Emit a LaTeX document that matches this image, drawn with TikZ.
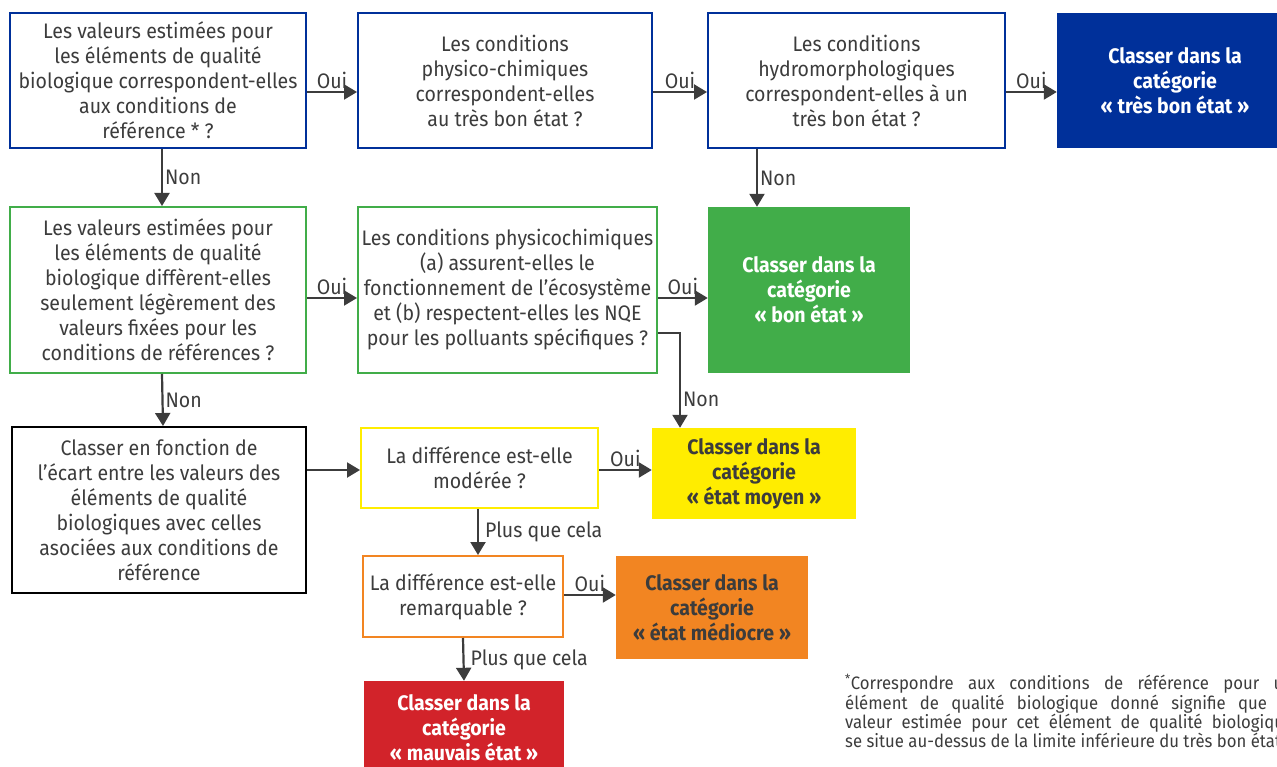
\documentclass[tikz,border=0pt]{standalone}
\usepackage{fontspec}
\setmainfont{Fira Sans}[FakeStretch=0.93]
\usepackage{tikz}
\usetikzlibrary{arrows.meta}

\definecolor{txtgray}{HTML}{3C3C3C}
\definecolor{ebleu}{HTML}{00309A}
\definecolor{evert}{HTML}{41AD49}
\definecolor{ejaune}{HTML}{FFED00}
\definecolor{eorange}{HTML}{F28522}
\definecolor{erouge}{HTML}{D2232A}

\tikzset{
  qbox/.style={draw=#1, line width=2pt, fill=white, align=center, inner sep=0pt, text=txtgray},
  rbox/.style={fill=#1, draw=none, align=center, inner sep=0pt, font=\fontsize{21}{25}\selectfont\bfseries},
  arr/.style={draw=txtgray, line width=2.2pt, -{Triangle[length=13pt,width=15pt]}},
  lbl/.style={text=txtgray, inner sep=2pt}
}

\begin{document}
\begin{tikzpicture}[x=1pt, y=-1pt]

  \fontsize{21}{25}\selectfont

  \useasboundingbox (0,0) rectangle (1277,767);

  %% first row
  \node[qbox=ebleu, minimum width=296pt, minimum height=135pt] (B1) at (158,80.5)
    {Les valeurs estimées pour\\les éléments de qualité\\biologique correspondent-elles\\aux conditions de\\référence * ?};
  \node[qbox=ebleu, minimum width=294pt, minimum height=135pt] (B2) at (505,80.5)
    {Les conditions\\physico-chimiques\\correspondent-elles\\au très bon état ?};
  \node[qbox=ebleu, minimum width=297pt, minimum height=135pt] (B3) at (856.5,80.5)
    {Les conditions\\hydromorphologiques\\correspondent-elles à un\\très bon état ?};
  \node[rbox=ebleu, text=white, minimum width=236pt, minimum height=135pt] (B4) at (1175,80.5)
    {Classer dans la\\catégorie\\« très bon état »};

  %% second row
  \node[qbox=evert, minimum width=296pt, minimum height=166pt] (G1) at (158,290)
    {Les valeurs estimées pour\\les éléments de qualité\\biologique diffèrent-elles\\seulement légèrement des\\valeurs fixées pour les\\conditions de références ?};
  \node[qbox=evert, minimum width=299pt, minimum height=166pt] (G2) at (507.5,290)
    {Les conditions physicochimiques\\(a) assurent-elles le\\fonctionnement de l’écosystème\\et (b) respectent-elles les NQE\\pour les polluants spécifiques ?};
  \node[rbox=evert, text=white, minimum width=202pt, minimum height=166pt] (G3) at (809,290)
    {Classer dans la\\catégorie\\« bon état »};

  %% third row
  \node[qbox=black, minimum width=294pt, minimum height=166pt] (K) at (159,510)
    {Classer en fonction de\\l’écart entre les valeurs des\\éléments de qualité\\biologiques avec celles\\asociées aux conditions de\\référence};
  \node[qbox=ejaune, minimum width=237pt, minimum height=80pt] (Y1) at (479.5,468)
    {La différence est-elle\\modérée ?};
  \node[rbox=ejaune, text=txtgray, minimum width=204pt, minimum height=91pt] (Y2) at (754,473.5)
    {Classer dans la\\catégorie\\« état moyen »};
  \node[qbox=eorange, minimum width=200pt, minimum height=81pt] (O1) at (463,596.5)
    {La différence est-elle\\remarquable ?};
  \node[rbox=eorange, text=txtgray, minimum width=192pt, minimum height=103pt] (O2) at (712,607.5)
    {Classer dans la\\catégorie\\« état médiocre »};
  \node[rbox=erouge, text=white, minimum width=200pt, minimum height=94pt] (R) at (464,728)
    {Classer dans la\\catégorie\\« mauvais état »};

  %% footnote
  \node[anchor=north west, text=txtgray, text width=448pt, align=justify, inner sep=0pt,
        font=\fontsize{18}{18}\selectfont] (note) at (845,674)
    {\hyphenpenalty=10000\relax\emergencystretch=2em\relax
     \textsuperscript{*}Correspondre aux conditions de référence pour un\linebreak
     élément de qualité biologique donné signifie que la\linebreak
     valeur estimée pour cet élément de qualité biologique\linebreak
     se situe au-dessus de la limite inférieure du très bon état};

  %% arrows
  \draw[arr] ([yshift=-11.5]B1.east) -- node[lbl, above]{Oui} ([yshift=-11.5]B2.west); %% B1->B2
  \draw[arr] ([yshift=-11.5]B2.east) -- node[lbl, above]{Oui} ([yshift=-11.5]B3.west); %% B2->B3
  \draw[arr] ([yshift=-11.5]B3.east) -- node[lbl, above]{Oui} ([yshift=-11.5]B4.west); %% B3->B4
  \draw[arr] ([xshift=4]B1.south) -- node[lbl, right]{Non} ([xshift=4]G1.north); %% B1->G1
  \draw[arr] ([xshift=-52]G3.north |- B3.south) -- node[lbl, right]{Non} ([xshift=-52]G3.north); %% B3->G3

  \draw[arr] ([yshift=-8]G1.east) -- node[lbl, above]{Oui} ([yshift=-8]G2.west); %% G1->G2
  \draw[arr] ([yshift=-8]G2.east) -- node[lbl, above]{Oui} ([yshift=-8]G3.west); %% G2->G3
  \draw[arr] ([yshift=-43]G2.east) -| node[lbl, right, pos=0.85]{Non} ([xshift=-74]Y2.north); %% G2->Y2
  \draw[arr] ([xshift=4]G1.south) -- node[lbl, right]{Non} ([xshift=4]K.north); %% G1->K

  \draw[arr] ([yshift=40]K.east) -- ([yshift=-2]Y1.west); %% K->Y1
  \draw[arr] ([yshift=-2]Y1.east) -- node[lbl, above]{Oui} ([yshift=3.5]Y2.west); %% Y1->Y2
  \draw[arr] ([xshift=-1.5]Y1.south) -- node[lbl, right, xshift=4]{Plus que cela} ([xshift=-1.5]Y1.south |- O1.north); %% Y1->O1
  \draw[arr] ([yshift=1.5]O1.east) -- node[lbl, above]{Oui} ([yshift=1.5]O1.east -| O2.west); %% O1->O2
  \draw[arr] (O1.south) -- node[lbl, right, xshift=4]{Plus que cela} (R.north); %% O1->R

\end{tikzpicture}
\end{document}
